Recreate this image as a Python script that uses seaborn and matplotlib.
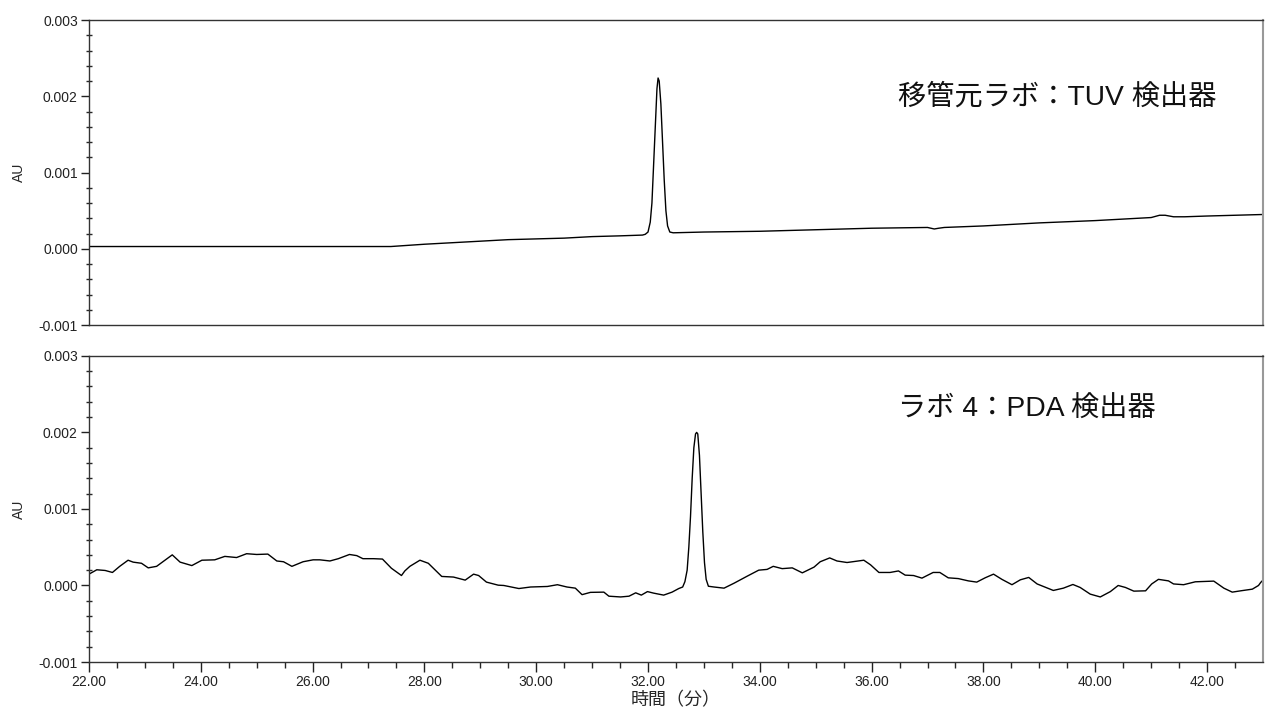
import matplotlib
matplotlib.use("Agg")
import matplotlib.pyplot as plt
import seaborn as sns
import pandas as pd
from matplotlib.ticker import FormatStrFormatter

# top trace: source lab, TUV detector (minutes, AU)
tuv_time = [22.0, 23.0, 24.0, 25.0, 26.0, 27.0, 27.4, 28.0, 28.5, 29.0, 29.5, 30.0, 30.5, 31.0, 31.5,
            31.9, 31.95, 32.0, 32.04, 32.07, 32.10, 32.13, 32.16, 32.18, 32.20, 32.23, 32.26, 32.29,
            32.32, 32.35, 32.39, 32.45,
            33.0, 34.0, 35.0, 36.0, 37.0, 37.12, 37.2, 37.3, 38.0, 39.0, 40.0, 40.5, 41.0, 41.15,
            41.25, 41.4, 41.6, 42.0, 42.5, 43.0]
tuv_au = [0.00003, 0.00003, 0.00003, 0.00003, 0.00003, 0.00003, 0.00003, 0.00006, 0.00008, 0.00010,
          0.00012, 0.00013, 0.00014, 0.00016, 0.00017, 0.00018, 0.00019, 0.00022, 0.00035, 0.00060,
          0.00110, 0.00160, 0.00210, 0.00224, 0.00220, 0.00190, 0.00140, 0.00090, 0.00050, 0.00030,
          0.00022, 0.00021,
          0.00022, 0.00023, 0.00025, 0.00027, 0.00028, 0.00026, 0.00027, 0.00028, 0.00030, 0.00034,
          0.00037, 0.00039, 0.00041, 0.00044, 0.00044, 0.00042, 0.00042, 0.00043, 0.00044, 0.00045]

# bottom trace: lab 4, PDA detector (minutes, AU)
pda_time = [22.0, 22.14, 22.29, 22.42, 22.55, 22.70, 22.79, 22.94, 23.06, 23.21, 23.36, 23.49, 23.63,
            23.84, 24.02, 24.25, 24.43, 24.64, 24.82, 25.0, 25.2, 25.36, 25.48, 25.63, 25.83, 26.01,
            26.13, 26.31, 26.46, 26.66, 26.79, 26.90, 27.09, 27.25, 27.41, 27.59, 27.65, 27.74, 27.92,
            28.07, 28.31, 28.52, 28.73, 28.88, 28.97, 29.11, 29.32, 29.42, 29.69, 29.90, 30.2, 30.38,
            30.55, 30.70, 30.82, 30.97, 31.21, 31.30, 31.51, 31.66, 31.78, 31.88, 31.99, 32.10, 32.28,
            32.43, 32.55, 32.62, 32.66, 32.70, 32.73, 32.76, 32.79, 32.82, 32.85, 32.87, 32.89, 32.92,
            32.95, 32.98, 33.01, 33.04, 33.08, 33.18, 33.36, 33.54, 33.77, 33.98, 34.13, 34.24, 34.40,
            34.58, 34.76, 34.97,
            35.08, 35.25, 35.38, 35.56, 35.86, 35.98, 36.13, 36.33, 36.48, 36.60, 36.75, 36.90, 37.10,
            37.22, 37.37, 37.55, 37.73, 37.88, 38.03, 38.18, 38.33, 38.51, 38.66, 38.81, 38.96, 39.25,
            39.43, 39.60, 39.73, 39.91, 40.09, 40.27, 40.41, 40.54, 40.69, 40.90, 41.01, 41.13, 41.31,
            41.40, 41.58, 41.79, 42.12, 42.30, 42.45, 42.60, 42.81, 42.92, 42.96, 43.0]
pda_au = [0.000148, 0.000205, 0.000196, 0.00017, 0.00025, 0.00033, 0.000305, 0.00029, 0.00023,
          0.00025, 0.00033, 0.0004, 0.000305, 0.00026, 0.00033, 0.000335, 0.00038, 0.000365,
          0.000415, 0.000405, 0.00041, 0.00032, 0.00031, 0.00025, 0.00031, 0.000335, 0.000335,
          0.00032, 0.00035, 0.000405, 0.00039, 0.00035, 0.00035, 0.000345, 0.000225, 0.00013,
          0.00019, 0.00025, 0.00033, 0.00029, 0.000118, 0.00011, 0.00007, 0.000148, 0.00013,
          0.000044, 0.000004, 0.0, -0.00004, -0.00002, -0.000013, 0.00001, -0.00002, -0.000035,
          -0.00012, -0.00009, -0.000087, -0.00014, -0.00015, -0.00014, -0.000096, -0.000126,
          -0.00008, -0.0001, -0.000126, -0.000087, -0.00004, -0.00002, 0.00005, 0.0002, 0.0005,
          0.0009, 0.0014, 0.0018, 0.00198, 0.0020, 0.00198, 0.0017, 0.0012, 0.0007, 0.0003,
          0.00008, -0.00001, -0.00002, -0.000035, 0.00003, 0.00012, 0.0002, 0.00021, 0.00025,
          0.00022, 0.00023, 0.000165, 0.00024,
          0.00031, 0.00036, 0.00032, 0.0003, 0.00033, 0.00027, 0.00017, 0.00017, 0.00019,
          0.000135, 0.00013, 0.000096, 0.00017, 0.00017, 0.0001, 0.00009, 0.00006, 0.000044,
          0.0001, 0.000148, 0.00008, 0.00001, 0.000074, 0.000105, 0.00002, -0.000065, -0.000035,
          0.000013, -0.000026, -0.000113, -0.00015, -0.00008, 0.0, -0.000026, -0.000074, -0.00007,
          0.00002, 0.00008, 0.00006, 0.00002, 0.00001, 0.000048, 0.000057, -0.000035, -0.000087,
          -0.00007, -0.000048, 0.0, 0.00004, 0.00007]

labels = ["移管元ラボ：TUV 検出器", "ラボ 4：PDA 検出器"]
x_ticks = [22, 24, 26, 28, 30, 32, 34, 36, 38, 40, 42]
x_minor = [22.5, 23, 23.5, 24.5, 25, 25.5, 26.5, 27, 27.5, 28.5, 29, 29.5, 30.5, 31, 31.5,
           32.5, 33, 33.5, 34.5, 35, 35.5, 36.5, 37, 37.5, 38.5, 39, 39.5, 40.5, 41, 41.5, 42.5]
y_ticks = [-0.001, 0.0, 0.001, 0.002, 0.003]
y_minor = [-0.0008, -0.0006, -0.0004, -0.0002, 0.0002, 0.0004, 0.0006, 0.0008,
           0.0012, 0.0014, 0.0016, 0.0018, 0.0022, 0.0024, 0.0026, 0.0028]

sns.set_style("white")
plt.rcParams["font.family"] = ["Liberation Sans", "Noto Sans CJK JP", "DejaVu Sans"]

fig = plt.figure(figsize=(12.8, 7.16), dpi=100)
ax_top = fig.add_axes([0.0695, 0.546, 0.9172, 0.426])
ax_bot = fig.add_axes([0.0695, 0.0754, 0.9172, 0.4276])

traces = [pd.DataFrame({"time": tuv_time, "au": tuv_au}),
          pd.DataFrame({"time": pda_time, "au": pda_au})]
text_y = [0.748, 0.824]

for ax, df, label, ty in zip([ax_top, ax_bot], traces, labels, text_y):
    sns.lineplot(data=df, x="time", y="au", ax=ax, color="black", linewidth=1.0,
                 estimator=None, sort=False)
    ax.set_xlim(22, 43)
    ax.set_ylim(-0.001, 0.003)
    ax.set_yticks(y_ticks)
    ax.set_yticks(y_minor, minor=True)
    ax.yaxis.set_major_formatter(FormatStrFormatter("%.3f"))
    ax.tick_params(axis="y", which="major", direction="out", length=6, width=1,
                   labelsize=10, colors="#222222", left=True, pad=2)
    ax.tick_params(axis="y", which="minor", direction="inout", length=5, width=1, left=True)
    ax.set_ylabel("AU", fontsize=10)
    ax.yaxis.set_label_coords(-0.054, 0.5)
    for side in ["left", "top", "bottom"]:
        ax.spines[side].set_color("#333333")
        ax.spines[side].set_linewidth(1.0)
    ax.spines["right"].set_color("#999999")
    ax.spines["right"].set_linewidth(1.5)
    ax.text(0.689, ty, label, transform=ax.transAxes, fontsize=20.3, va="center", ha="left",
            family=["Liberation Sans", "Noto Sans CJK JP", "DejaVu Sans"], color="#111111")

ax_top.set_xticks(x_ticks)
ax_top.tick_params(axis="x", which="both", bottom=False, labelbottom=False)
ax_top.set_xlabel("")

ax_bot.set_xticks(x_ticks)
ax_bot.set_xticks(x_minor, minor=True)
ax_bot.xaxis.set_major_formatter(FormatStrFormatter("%.2f"))
ax_bot.tick_params(axis="x", which="major", direction="out", length=7, width=1,
                   labelsize=10, colors="#222222", bottom=True, pad=2)
ax_bot.tick_params(axis="x", which="minor", direction="out", length=4, width=1, bottom=True)
ax_bot.set_xlabel("時間（分）", fontsize=13, labelpad=2,
                  family=["Noto Sans CJK JP", "DejaVu Sans"])

fig.savefig("out.png", dpi=100)
